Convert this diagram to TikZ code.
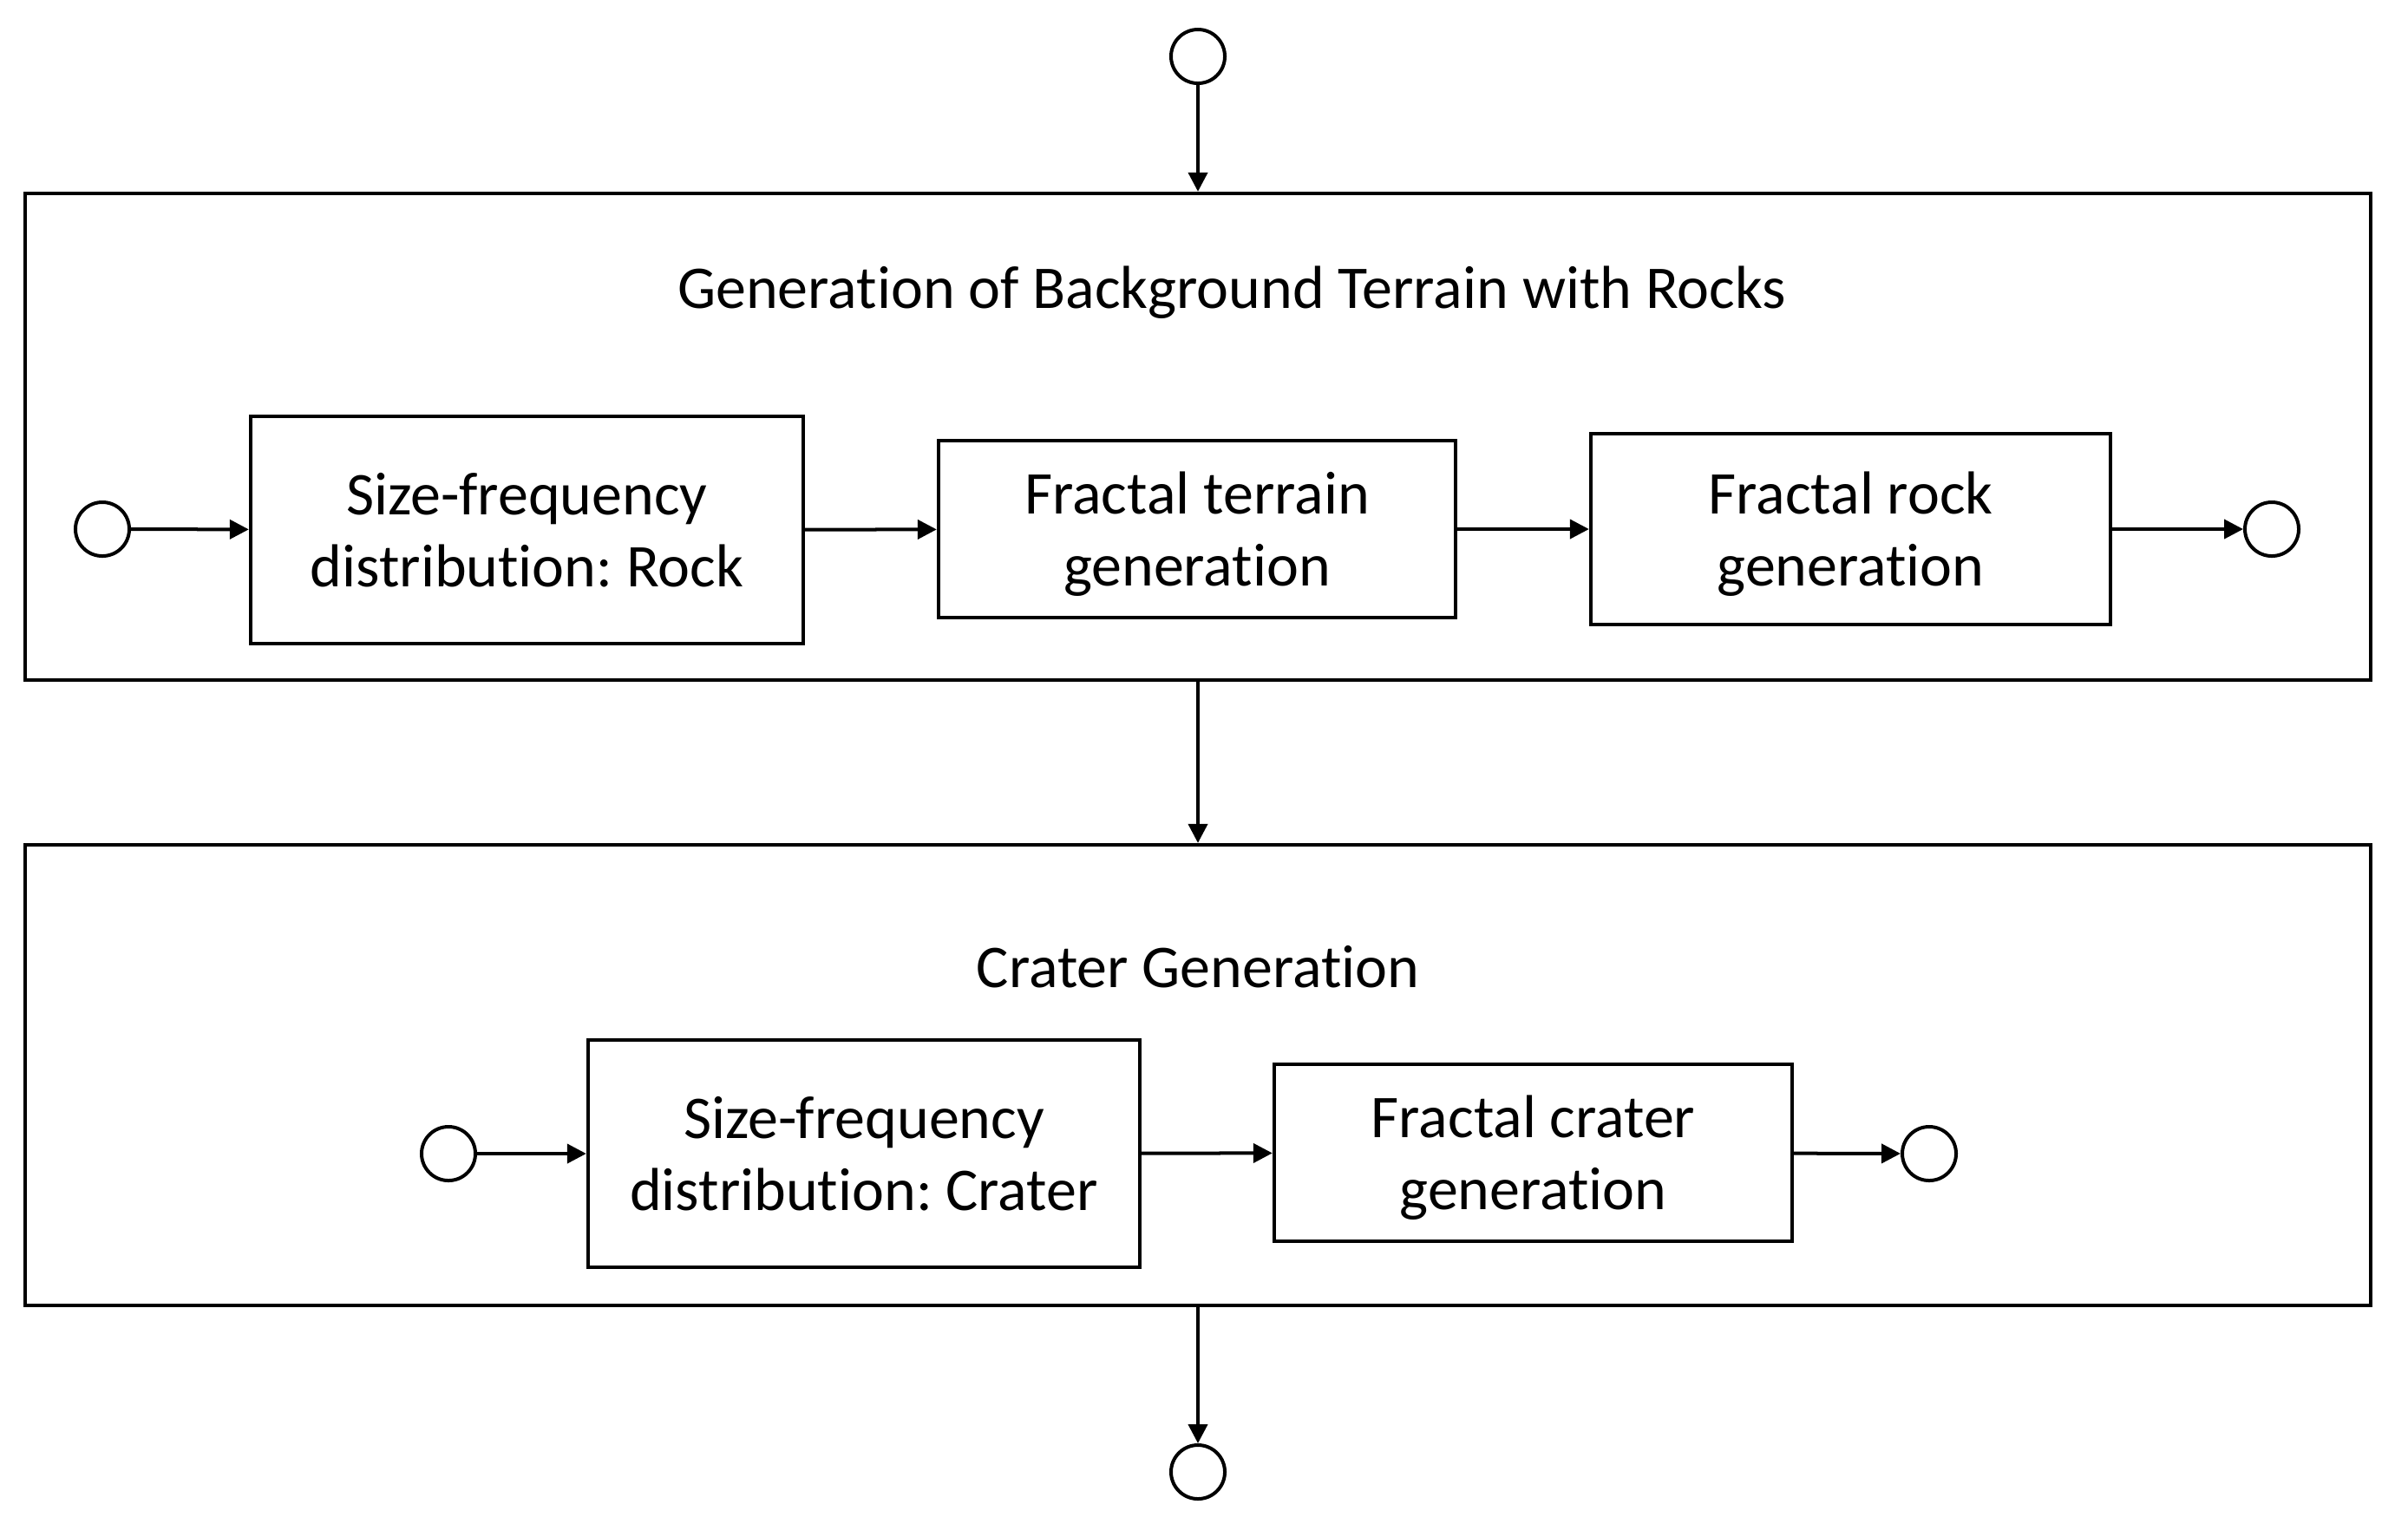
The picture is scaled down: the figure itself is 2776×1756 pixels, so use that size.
\documentclass[tikz,border=0pt]{standalone}
\usepackage{fontspec}
\setmainfont[Ligatures=NoCommon]{Carlito}
\frenchspacing
\usetikzlibrary{arrows.meta}
\begin{document}
\begin{tikzpicture}[x=0.01cm,y=-0.01cm,
  lw/.style={line width=0.04cm},
  proc/.style={draw,lw,align=center,inner sep=0pt,text depth=0pt,font=\fontsize{19.9}{23.6}\selectfont},
  outerbox/.style={draw,lw,inner sep=0pt},
  term/.style={draw,lw,circle,minimum size=0.62cm,inner sep=0pt},
  title/.style={inner sep=0pt,text depth=0pt,font=\fontsize{19.9}{23.6}\selectfont},
  flow/.style={lw,-{Triangle[length=0.22cm,width=0.22cm]}}]
\useasboundingbox (0,0) rectangle (2776,1756);
% outer boxes
\node[outerbox,minimum width=27.02cm,minimum height=5.61cm] (outer1) at (1381,503.5) {};
\node[outerbox,minimum width=27.02cm,minimum height=5.31cm] (outer2) at (1381,1239.5) {};
\node[title] (t1) at (1420,331) {Generation of Background Terrain with Rocks};
\node[title] (t2) at (1381,1114) {Crater Generation};
% top and bottom terminals
\node[term] (top) at (1381,65) {};
\node[term] (bot) at (1381,1697) {};
% inner processes, row 1
\node[term] (s1) at (118,610) {};
\node[proc,minimum width=6.37cm,minimum height=2.62cm] (a) at (607.5,611) {Size-frequency\\distribution: Rock};
\node[proc,minimum width=5.96cm,minimum height=2.04cm] (b) at (1380,610) {Fractal terrain\\generation};
\node[proc,minimum width=5.99cm,minimum height=2.20cm] (c) at (2133.5,610) {Fractal rock\\generation};
\node[term] (e1) at (2619,610) {};
% row 2
\node[term] (s2) at (517,1330) {};
\node[proc,minimum width=6.36cm,minimum height=2.62cm] (d) at (996,1330) {Size-frequency\\distribution: Crater};
\node[proc,minimum width=5.97cm,minimum height=2.04cm] (e) at (1767.5,1329) {Fractal crater\\generation};
\node[term] (e2) at (2224,1330) {};
% connectors
\draw[flow] (top) -- (outer1.north);
\draw[flow] (outer1.south) -- (outer2.north);
\draw[flow] (outer2.south) -- (bot);
\draw[flow] (s1) -- (a);
\draw[flow] (a) -- (b);
\draw[flow] (b) -- (c);
\draw[flow] (c) -- (e1);
\draw[flow] (s2) -- (d);
\draw[flow] (d) -- (e);
\draw[flow] (e) -- (e2);
\end{tikzpicture}
\end{document}
